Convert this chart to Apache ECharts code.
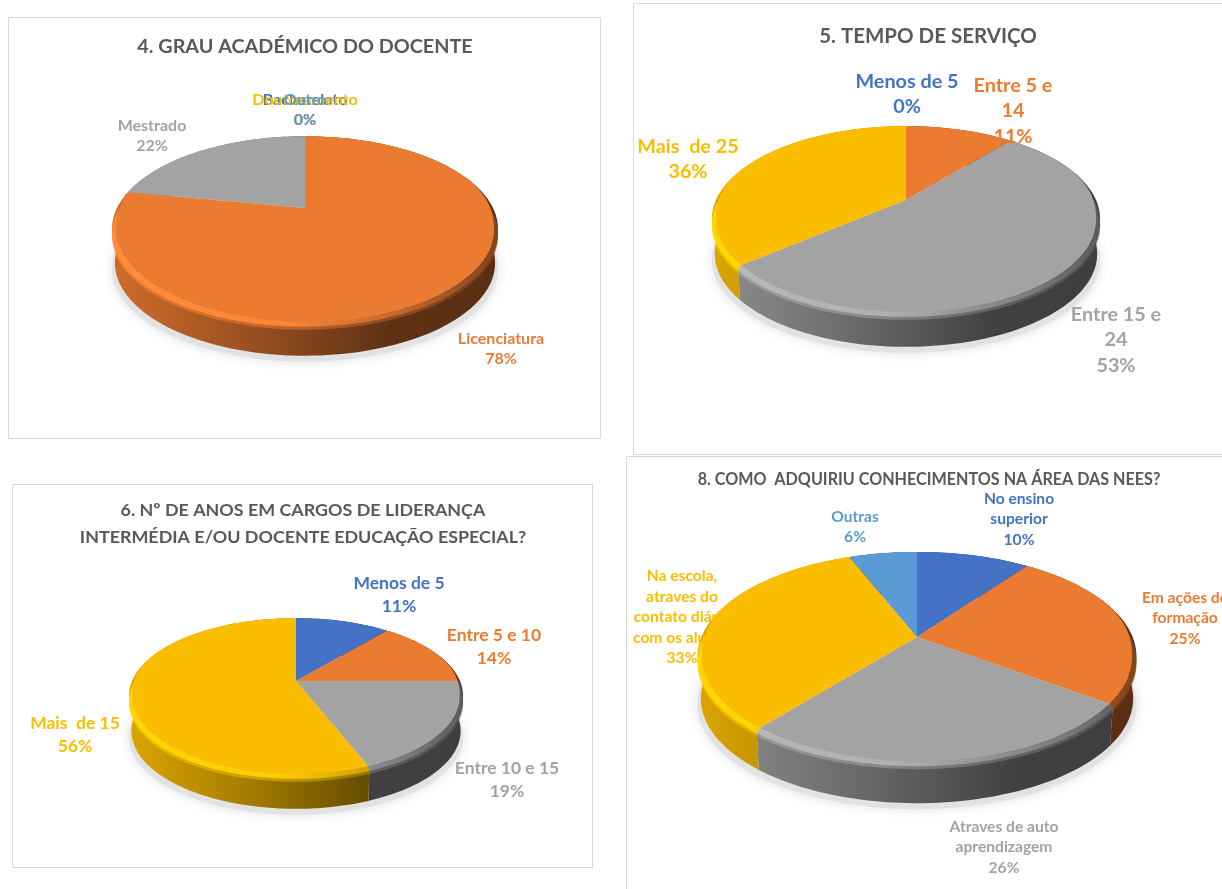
<!DOCTYPE html>
<html>
<head>
<meta charset="utf-8">
<title>Pies</title>
<script src="https://cdn.jsdelivr.net/npm/echarts@6/dist/echarts.min.js"></script>
<style>
  html, body { margin: 0; padding: 0; background: #fff; overflow: hidden; }
  #chart { width: 1222px; height: 889px; }
</style>
</head>
<body>
<div id="chart"></div>
<script>
// data
const grauTitle = '4. GRAU ACADÉMICO DO DOCENTE'
const grauNames = ['Bacharelato', 'Licenciatura', 'Mestrado', 'Doutoramento', 'Outro']
const grauValues = [0, 78, 22, 0, 0]

const tempoTitle = '5. TEMPO DE SERVIÇO'
const tempoNames = ['Menos de 5', 'Entre 5 e\n14', 'Entre 15 e\n24', 'Mais  de 25']
const tempoValues = [0, 11, 53, 36]

const cargosTitle = '6. Nº DE ANOS EM CARGOS DE LIDERANÇA\nINTERMÉDIA E/OU DOCENTE EDUCAÇÃO ESPECIAL?'
const cargosNames = ['Menos de 5', 'Entre 5 e 10', 'Entre 10 e 15', 'Mais  de 15']
const cargosValues = [11, 14, 19, 56]

const neesTitle = '8. COMO  ADQUIRIU CONHECIMENTOS NA ÁREA DAS NEES?'
const neesNames = ['No ensino\nsuperior', 'Em ações de\nformação', 'Atraves de auto\naprendizagem', 'Na escola,\natraves do\ncontato diário\ncom os alunos', 'Outras']
const neesValues = [10, 25, 26, 33, 6]

const BLUE = '#4472c4', ORANGE = '#eb7b31', GREY = '#a3a3a3', YELLOW = '#fbbd00', LIGHT = '#5b9bd5'

// layout: cx/ay = slice apex, A/B/k = perspective of the disc, depth = wall height
const panels = [
  {
    title: grauTitle, names: grauNames, values: grauValues,
    colors: [BLUE, ORANGE, GREY, YELLOW, LIGHT],
    box: [8, 17, 592, 421], titleAt: [305, 47], titleSize: 19.8, labelSize: 16, lineH: 20,
    cx: 305, ay: 208, A: 188, B: 88, k: 0.226, depth: 34,
    labelAt: [[305, 110], [501, 349], [152, 136], [305, 110], [305, 110]]
  },
  {
    title: tempoTitle, names: tempoNames, values: tempoValues,
    colors: [BLUE, ORANGE, GREY, YELLOW],
    box: [633, 3, 620, 451], titleAt: [928, 36], titleSize: 20.5, labelSize: 19.8, lineH: 25.5,
    cx: 906, ay: 200, A: 190, B: 89, k: 0.204, depth: 35,
    labelAt: [[907, 94], [1013, 111], [1116, 340], [688, 159]]
  },
  {
    title: cargosTitle, names: cargosNames, values: cargosValues,
    colors: [BLUE, ORANGE, GREY, YELLOW],
    box: [12, 484, 580, 383], titleAt: [303, 524], titleSize: 17.9, labelSize: 17.5, lineH: 23,
    cx: 296, ay: 681, A: 164, B: 75, k: 0.192, depth: 35,
    labelAt: [[399, 595], [494, 647], [507, 780], [75, 735]]
  },
  {
    title: neesTitle, names: neesNames, values: neesValues,
    colors: [BLUE, ORANGE, GREY, YELLOW, LIGHT],
    box: [626, 456, 620, 460], titleAt: [929, 480], titleSize: 16.15, labelSize: 15.6, lineH: 20.5,
    cx: 917, ay: 637, A: 215.6, B: 101, k: 0.1866, depth: 42,
    labelAt: [[1019, 519], [1185, 618], [1004, 847], [682, 617], [855, 527]]
  }
]

const FONT = 'Lato, "Open Sans", sans-serif'

function shade(hex, f) {
  const n = parseInt(hex.slice(1), 16)
  const c = [n >> 16, (n >> 8) & 255, n & 255].map(v => Math.min(255, Math.round(v * f)))
  return `rgb(${c[0]},${c[1]},${c[2]})`
}

// slice angle (clockwise from the top) to screen position
function project(p, theta) {
  const u = Math.sin(theta), v = Math.cos(theta)
  const d = 1 + p.k * v
  return [p.cx + p.A * u / d, p.ay - p.B * v / d, v]
}

function arc(p, a0, a1) {
  const steps = Math.max(2, Math.ceil((a1 - a0) / 0.03))
  const pts = []
  for (let i = 0; i <= steps; i++) pts.push(project(p, a0 + (a1 - a0) * i / steps))
  return pts
}

// the flat face sits a little inside the silhouette on the front half, the rim fills the gap
function inset(p, q) {
  const w = Math.max(0, Math.min(1, (0.35 - q[2]) / 0.5))
  return [p.cx + (q[0] - p.cx) * (1 - 0.02 * w), q[1]]
}

function hGradient(p, stops) {
  const half = p.A * 1.03
  return {
    type: 'linear', global: true,
    x: p.cx - half, y: 0, x2: p.cx + half, y2: 0,
    colorStops: stops
  }
}

function rimBand(p, color, pts, drop, opacity, z2) {
  const inner = pts.map(q => inset(p, q))
  const outer = pts.map(q => [q[0], q[1] + drop]).reverse()
  return {
    type: 'polygon', z2: z2, silent: true,
    shape: { points: inner.concat(outer) },
    style: {
      opacity: opacity,
      fill: hGradient(p, [
        { offset: 0, color: shade(color, 1.14) },
        { offset: 0.45, color: shade(color, 1.08) },
        { offset: 0.78, color: shade(color, 0.8) },
        { offset: 1, color: shade(color, 0.55) }
      ])
    }
  }
}

function renderSlice(p, params, api) {
  const i = params.dataIndex
  const value = api.value(0)
  const total = p.values.reduce((a, b) => a + b, 0)
  let before = 0
  for (let j = 0; j < i; j++) before += p.values[j]
  const a0 = before / total * Math.PI * 2
  const a1 = (before + value) / total * Math.PI * 2
  const color = p.colors[i]
  const children = []

  // soft ground shadow, once per pie
  if (i === 0) {
    const outline = arc(p, 0, Math.PI * 2).map(q => [q[0], q[1] + p.depth + 6])
    children.push({
      type: 'polygon', z2: 0, silent: true,
      shape: { points: outline },
      style: { fill: '#e2e2e2', shadowBlur: 12, shadowColor: '#e2e2e2' }
    })
  }

  if (value > 0) {
    const top = arc(p, a0, a1)
    const bottom = top.map(q => [p.cx + (q[0] - p.cx) * 0.985, q[1] + p.depth]).reverse()
    children.push({
      type: 'polygon', z2: 1, silent: true,
      shape: { points: top.map(q => [q[0], q[1]]).concat(bottom) },
      style: {
        fill: hGradient(p, [
          { offset: 0, color: shade(color, 0.88) },
          { offset: 0.35, color: shade(color, 0.66) },
          { offset: 0.72, color: shade(color, 0.4) },
          { offset: 1, color: shade(color, 0.38) }
        ])
      }
    })
    const rim = top.filter(q => q[2] < 0.35)
    if (rim.length > 1) {
      children.push(rimBand(p, color, rim, 8, 0.45, 2))
      children.push(rimBand(p, color, rim, 5, 1, 2))
    }
    children.push({
      type: 'polygon', z2: 3, silent: true,
      shape: { points: [[p.cx, p.ay]].concat(top.map(q => inset(p, q))) },
      style: { fill: color }
    })
  }

  const at = p.labelAt[i]
  children.push({
    type: 'text', z2: 10, silent: true,
    x: at[0], y: at[1],
    style: {
      text: p.names[i] + '\n' + value + '%',
      fill: color, align: 'center', verticalAlign: 'middle',
      fontFamily: FONT, fontWeight: 'bold', fontSize: p.labelSize, lineHeight: p.lineH
    }
  })
  return { type: 'group', children: children }
}

const chart = echarts.init(document.getElementById('chart'), null, { renderer: 'canvas' })
chart.setOption({
  animation: false,
  backgroundColor: '#fff',
  title: panels.map(p => ({
    text: p.title,
    left: p.titleAt[0], top: p.titleAt[1],
    textAlign: 'center', textVerticalAlign: 'middle', padding: 0,
    textStyle: {
      fontFamily: FONT, fontWeight: 'bold', fontSize: p.titleSize,
      lineHeight: p.titleSize * 1.5, color: '#595959'
    }
  })),
  graphic: panels.map(p => ({
    type: 'rect', silent: true, z: -1,
    shape: { x: p.box[0] + 0.5, y: p.box[1] + 0.5, width: p.box[2], height: p.box[3] },
    style: { fill: '#fff', stroke: '#d9d9d9', lineWidth: 1 }
  })),
  series: panels.map(p => ({
    type: 'custom',
    coordinateSystem: 'none',
    data: p.values.map(v => [v]),
    renderItem: (params, api) => renderSlice(p, params, api)
  }))
})
</script>
</body>
</html>
